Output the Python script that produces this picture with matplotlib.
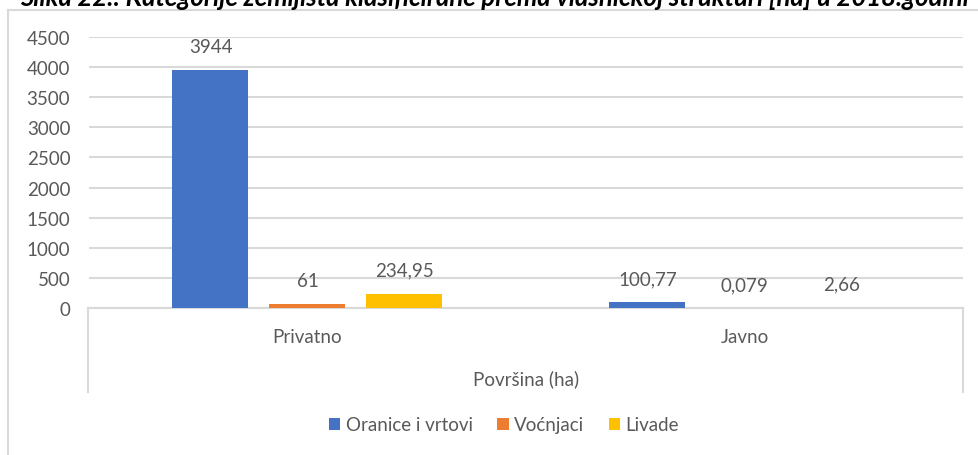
import numpy as np
import matplotlib.pyplot as plt
from matplotlib.patches import Patch
from matplotlib.lines import Line2D

categories = ["Privatno", "Javno"]
series_names = ["Oranice i vrtovi", "Voćnjaci", "Livade"]
oranice = [3944, 100.77]
vocnjaci = [61, 0.079]
livade = [234.95, 2.66]
value_labels = [["3944", "100,77"], ["61", "0,079"], ["234,95", "2,66"]]
colors = ["#4472C4", "#ED7D31", "#FFC000"]
yticks = [0, 500, 1000, 1500, 2000, 2500, 3000, 3500, 4000, 4500]

W, H = 979, 456
txt = "#595959"
grid_c = "#D9D9D9"
plt.rcParams["font.family"] = ["Lato", "DejaVu Sans"]

fig = plt.figure(figsize=(W / 100, H / 100), dpi=100)


def px(x, y):
    # pixel coords (top-left origin) -> figure fraction
    return x / W, 1 - y / H


# outer chart border (left and top edges visible)
fig.add_artist(Line2D([8 / W, 8 / W], [0, 1 - 11 / H], color=grid_c, lw=1.5))
fig.add_artist(Line2D([8 / W, 1], [1 - 11 / H, 1 - 11 / H], color=grid_c, lw=1.5))

# caption, cut at the top of the picture as in the source
fig.text(20 / W, 1 - 6 / H,
         "Slika 22.: Kategorije zemljišta klasificirane prema vlasničkoj strukturi [ha] u 2018.godini",
         fontsize=18.5, fontweight="bold", fontstyle="italic", color="black",
         ha="left", va="baseline")

ax = fig.add_axes([89 / W, 1 - 309 / H, (963 - 89) / W, (309 - 38) / H])

x = np.arange(len(categories))
bw = 76 / 437
step = 97 / 437
series = [oranice, vocnjaci, livade]
for i, (vals, c) in enumerate(zip(series, colors)):
    pos = x + (i - 1) * step
    ax.bar(pos, vals, width=bw, color=c, zorder=3)
    for p, v, lab in zip(pos, vals, value_labels[i]):
        ax.annotate(lab, (p, v), xytext=(0, 13), textcoords="offset points",
                    ha="center", va="baseline", fontsize=13.5, color=txt)

ax.set_xlim(-0.5, 1.5)
ax.set_ylim(0, 4500)
ax.set_yticks(yticks)
ax.set_yticklabels([str(t) for t in yticks], fontsize=13.5, color=txt)
ax.tick_params(axis="y", length=0, pad=13.5)
ax.set_xticks(x)
ax.set_xticklabels(categories, fontsize=13.5, color=txt)
ax.tick_params(axis="x", length=0, pad=14.5)
ax.set_xlabel("Površina (ha)", fontsize=13.5, color=txt, labelpad=17.5)
ax.yaxis.grid(True, color=grid_c, lw=1.5, zorder=0)
ax.set_axisbelow(True)
for s in ["top", "right", "left"]:
    ax.spines[s].set_visible(False)
ax.spines["bottom"].set_color(grid_c)
ax.spines["bottom"].set_linewidth(1.5)

# category box sides
for xp in [88, 963]:
    fig.add_artist(Line2D([xp / W, xp / W], [1 - 309 / H, 1 - 393 / H], color=grid_c, lw=1.5))

handles = [Patch(facecolor=c) for c in colors]
fig.legend(handles, series_names, loc="center", bbox_to_anchor=px(504, 426),
           ncol=3, frameon=False, fontsize=13.5, labelcolor=txt,
           handlelength=0.6, handleheight=0.6, handletextpad=0.3, columnspacing=1.3)

plt.savefig("out.png", dpi=100)
